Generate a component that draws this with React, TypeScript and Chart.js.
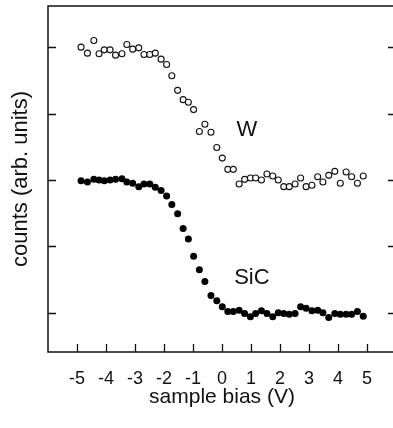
import React, { useEffect, useRef } from "react";
import { Chart, registerables } from "chart.js";

Chart.register(...registerables);

// sample bias (V)
const X_VALUES = [
  -4.86, -4.64, -4.42, -4.24, -4.06, -3.86, -3.67, -3.45, -3.28, -3.08,
  -2.87, -2.69, -2.49, -2.3, -2.1, -1.91, -1.73, -1.53, -1.34, -1.16,
  -0.98, -0.78, -0.59, -0.38, -0.18, 0.01, 0.2, 0.39, 0.59, 0.78,
  0.98, 1.16, 1.36, 1.55, 1.75, 1.94, 2.13, 2.32, 2.52, 2.71,
  2.9, 3.1, 3.3, 3.48, 3.68, 3.89, 4.08, 4.28, 4.47, 4.67, 4.87,
];

// W (open circles), counts in arb. units
const W_VALUES = [
  4.0, 3.91, 4.1, 3.9, 3.96, 3.96, 3.88, 3.9, 4.04, 3.97,
  3.99, 3.89, 3.89, 3.91, 3.82, 3.74, 3.57, 3.35, 3.21, 3.17,
  3.06, 2.73, 2.84, 2.72, 2.49, 2.33, 2.16, 2.16, 1.94, 2.01,
  2.03, 2.03, 2.0, 2.09, 2.06, 2.0, 1.9, 1.9, 1.94, 2.03,
  1.9, 1.92, 2.05, 1.97, 2.07, 2.13, 1.95, 2.12, 2.05, 1.95, 2.06,
];

// SiC (filled circles)
const SIC_VALUES = [
  1.99, 1.97, 2.01, 2.0, 1.99, 2.0, 2.01, 2.02, 1.97, 1.95,
  1.9, 1.94, 1.94, 1.89, 1.84, 1.76, 1.63, 1.49, 1.27, 1.11,
  0.85, 0.65, 0.47, 0.26, 0.18, 0.09, 0.02, 0.02, 0.04, -0.01,
  -0.06, -0.01, 0.03, -0.01, -0.06, 0.0, -0.01, -0.02, -0.01, 0.09,
  0.07, 0.03, 0.04, 0.0, -0.07, -0.01, -0.02, -0.02, -0.02, 0.02, -0.05,
];

const X_TICKS = [-5, -4, -3, -2, -1, 0, 1, 2, 3, 4, 5];
const Y_TICKS = [0, 1, 2, 3, 4];

const SERIES_LABELS = ["W", "SiC"];
const LABEL_X = [0.86, 1.03];
const LABEL_Y = [2.75, 0.53];

const FONT = "'Liberation Sans', Arial, Helvetica, sans-serif";

const framePlugin = {
  id: "frame",
  afterDraw(chart: any) {
    const { ctx, chartArea, scales } = chart;
    const { left, right, top, bottom } = chartArea;
    const x = scales.x;
    const y = scales.y;
    ctx.save();
    ctx.strokeStyle = "#111";
    ctx.lineWidth = 1.5;
    ctx.strokeRect(left, top, right - left, bottom - top);
    ctx.lineWidth = 1.3;
    ctx.beginPath();
    X_TICKS.forEach((v) => {
      const px = Math.round(x.getPixelForValue(v)) + 0.5;
      ctx.moveTo(px, bottom);
      ctx.lineTo(px, bottom - 8);
    });
    Y_TICKS.forEach((v) => {
      const py = Math.round(y.getPixelForValue(v)) + 0.5;
      ctx.moveTo(left, py);
      ctx.lineTo(left + 8, py);
      ctx.moveTo(right - 8, py);
      ctx.lineTo(right, py);
    });
    ctx.stroke();
    ctx.fillStyle = "#111";
    ctx.font = `22px ${FONT}`;
    ctx.textAlign = "center";
    ctx.textBaseline = "middle";
    SERIES_LABELS.forEach((t, i) => {
      ctx.fillText(t, x.getPixelForValue(LABEL_X[i]), y.getPixelForValue(LABEL_Y[i]));
    });
    ctx.restore();
  },
};

export default function App() {
  const ref = useRef<HTMLCanvasElement>(null);
  useEffect(() => {
    if (!ref.current) return;
    const chart = new Chart(ref.current, {
      type: "scatter",
      data: {
        datasets: [
          {
            label: "W",
            data: X_VALUES.map((xv, i) => ({ x: xv, y: W_VALUES[i] })),
            pointRadius: 3,
            pointBorderWidth: 1.1,
            borderColor: "#111",
            backgroundColor: "#fff",
            showLine: false,
          },
          {
            label: "SiC",
            data: X_VALUES.map((xv, i) => ({ x: xv, y: SIC_VALUES[i] })),
            pointRadius: 3.5,
            pointBorderWidth: 0,
            borderColor: "#000",
            backgroundColor: "#000",
            showLine: false,
          },
        ],
      },
      options: {
        responsive: false,
        animation: false,
        devicePixelRatio: 1,
        layout: { autoPadding: false, padding: { top: 6, left: 0, right: 0, bottom: 0 } },
        plugins: { legend: { display: false }, tooltip: { enabled: false } },
        scales: {
          x: {
            type: "linear",
            min: -6,
            max: 6,
            afterBuildTicks: (s: any) => {
              s.ticks = X_TICKS.map((v) => ({ value: v }));
            },
            afterFit: (s: any) => {
              s.height = 76;
              s.paddingLeft = 0;
              s.paddingRight = 0;
            },
            grid: { display: false },
            border: { display: false },
            ticks: {
              color: "#111",
              font: { family: FONT, size: 18 },
              padding: 8,
              maxRotation: 0,
              autoSkip: false,
            },
            title: {
              display: true,
              text: "sample bias (V)",
              color: "#111",
              font: { family: FONT, size: 21 },
              padding: { top: 0, bottom: 18 },
            },
          },
          y: {
            type: "linear",
            min: -0.59,
            max: 4.62,
            afterBuildTicks: (s: any) => {
              s.ticks = Y_TICKS.map((v) => ({ value: v }));
            },
            afterFit: (s: any) => {
              s.width = 48;
              s.paddingTop = 0;
              s.paddingBottom = 0;
            },
            grid: { display: false },
            border: { display: false },
            ticks: { display: false },
            title: {
              display: true,
              text: "counts (arb. units)",
              color: "#111",
              font: { family: FONT, size: 22 },
              padding: { top: 8, bottom: 0 },
            },
          },
        },
      },
      plugins: [framePlugin],
    } as any);
    return () => chart.destroy();
  }, []);
  return (
    <div
      style={{
        position: "fixed",
        left: 0,
        top: 0,
        width: 393,
        height: 428,
        overflow: "hidden",
        background: "#fff",
      }}
    >
      <canvas ref={ref} width={396} height={428} style={{ width: 396, height: 428 }} />
    </div>
  );
}
